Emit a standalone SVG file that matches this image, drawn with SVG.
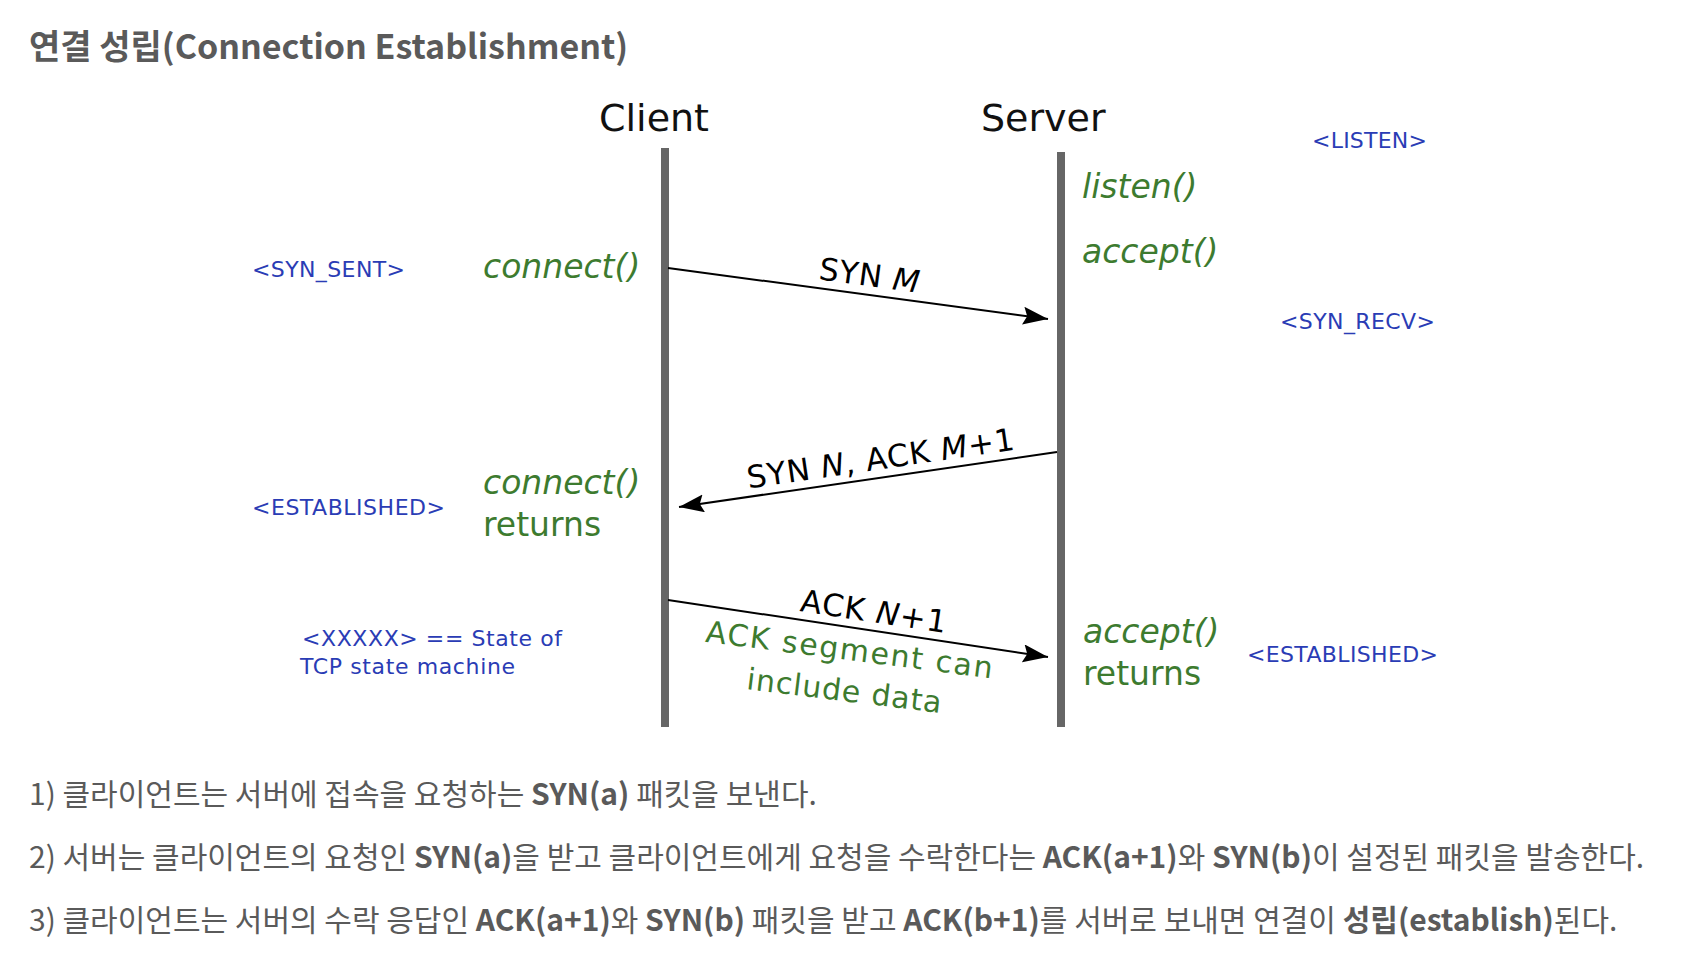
<svg xmlns="http://www.w3.org/2000/svg" width="1686" height="968" viewBox="0 0 1686 968">
<defs>
<style>
.dj{font-family:"DejaVu Sans","Liberation Sans",sans-serif}
.hdr{font-size:38px;fill:#111}
.msg{font-size:31px;fill:#000}
.fn{font-size:33px;fill:#3d7b2f;font-style:italic}
.fnr{font-size:33px;fill:#3d7b2f}
.note{font-size:30px;fill:#3d7b2f}
.st{font-size:22px;fill:#2a3cb5}
.kr{font-family:"Noto Sans CJK KR","Noto Sans",sans-serif;fill:#5a5a5a}
.b{font-weight:bold}
.life{stroke:#666;stroke-width:8}
.arr{stroke:#000;stroke-width:2;fill:none;marker-end:url(#ah)}
</style>
<marker id="ah" markerUnits="userSpaceOnUse" markerWidth="26" markerHeight="20" refX="25" refY="9" orient="auto">
<path d="M0,0 L25,9 L0,18 L4,9 Z" fill="#000"/>
</marker>
</defs>
<rect width="1686" height="968" fill="#fff"/>
<g id="title">
<text class="kr b" x="29" y="59" font-size="34">연결 성립(Connection Establishment)</text>
</g>
<g id="client">
<text class="dj hdr" x="599" y="131">Client</text>
<line class="life" x1="665" y1="148" x2="665" y2="727"/>
</g>
<g id="server">
<text class="dj hdr" x="981" y="131">Server</text>
<line class="life" x1="1061" y1="152" x2="1061" y2="727"/>
</g>
<g id="connectors">
<line class="arr" x1="668" y1="268" x2="1048" y2="319"/>
<line class="arr" x1="1057" y1="452" x2="679" y2="507"/>
<line class="arr" x1="668" y1="600" x2="1048" y2="657"/>
</g>
<g id="msg-labels" class="dj">
<text class="msg" text-anchor="middle" transform="translate(868,286) rotate(7.64)" textLength="101">SYN <tspan font-style="italic">M</tspan></text>
<text class="msg" text-anchor="middle" transform="translate(882,469) rotate(-8.28)" textLength="270">SYN <tspan font-style="italic">N</tspan>, ACK <tspan font-style="italic">M</tspan>+1</text>
<text class="msg" text-anchor="middle" transform="translate(872,622) rotate(8.53)" textLength="147">ACK <tspan font-style="italic">N</tspan>+1</text>
<text class="note" text-anchor="middle" transform="translate(848,660) rotate(7.3)" textLength="289">ACK segment can</text>
<text class="note" text-anchor="middle" transform="translate(843,701) rotate(7)" textLength="196">include data</text>
</g>
<g id="client-calls" class="dj">
<text class="fn" x="483" y="278">connect()</text>
<text class="fn" x="483" y="494">connect()</text>
<text class="fnr" x="483" y="536">returns</text>
</g>
<g id="server-calls" class="dj">
<text class="fn" x="1082" y="198">listen()</text>
<text class="fn" x="1082" y="263">accept()</text>
<text class="fn" x="1083" y="643">accept()</text>
<text class="fnr" x="1083" y="685">returns</text>
</g>
<g id="states" class="dj">
<text class="st" x="1312" y="148" textLength="115">&lt;LISTEN&gt;</text>
<text class="st" x="1280" y="329" textLength="155">&lt;SYN_RECV&gt;</text>
<text class="st" x="252" y="277" textLength="153">&lt;SYN_SENT&gt;</text>
<text class="st" x="252" y="515" textLength="193">&lt;ESTABLISHED&gt;</text>
<text class="st" x="1247" y="662" textLength="191">&lt;ESTABLISHED&gt;</text>
<text class="st" x="302" y="646" textLength="260">&lt;XXXXX&gt; == State of</text>
<text class="st" x="300" y="674" textLength="215">TCP state machine</text>
</g>
<g id="steps" class="kr" font-size="30">
<text x="29" y="805">1) 클라이언트는 서버에 접속을 요청하는 <tspan class="b">SYN(a)</tspan> 패킷을 보낸다.</text>
<text x="29" y="868">2) 서버는 클라이언트의 요청인 <tspan class="b">SYN(a)</tspan>을 받고 클라이언트에게 요청을 수락한다는 <tspan class="b">ACK(a+1)</tspan>와 <tspan class="b">SYN(b)</tspan>이 설정된 패킷을 발송한다.</text>
<text x="29" y="931">3) 클라이언트는 서버의 수락 응답인 <tspan class="b">ACK(a+1)</tspan>와 <tspan class="b">SYN(b)</tspan> 패킷을 받고 <tspan class="b">ACK(b+1)</tspan>를 서버로 보내면 연결이 <tspan class="b">성립(establish)</tspan>된다.</text>
</g>
</svg>
